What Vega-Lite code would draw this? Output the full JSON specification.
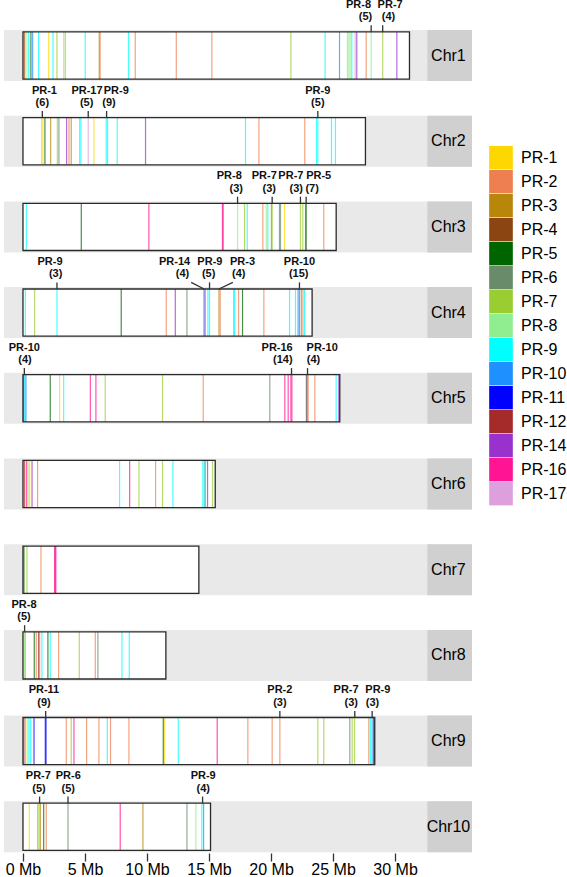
{
  "$schema": "https://vega.github.io/schema/vega-lite/v6.json",
  "padding": {"left": 4, "top": -2, "right": 0, "bottom": 0},
  "bounds": "flush",
  "config": {
    "view": {"fill": "#E9E9E9", "stroke": null},
    "font": "Liberation Sans"
  },
  "data": {
    "values": [
      {"t": "c", "chr": "Chr1", "len": 31.16},
      {"t": "c", "chr": "Chr2", "len": 27.61},
      {"t": "c", "chr": "Chr3", "len": 25.25},
      {"t": "c", "chr": "Chr4", "len": 23.31},
      {"t": "c", "chr": "Chr5", "len": 25.54},
      {"t": "c", "chr": "Chr6", "len": 15.5},
      {"t": "c", "chr": "Chr7", "len": 14.18},
      {"t": "c", "chr": "Chr8", "len": 11.52},
      {"t": "c", "chr": "Chr9", "len": 28.36},
      {"t": "c", "chr": "Chr10", "len": 15.12},

      {"t": "g", "chr": "Chr1", "pos": 0.11, "fam": "PR-12"},
      {"t": "g", "chr": "Chr1", "pos": 0.19, "fam": "PR-1"},
      {"t": "g", "chr": "Chr1", "pos": 0.32, "fam": "PR-8"},
      {"t": "g", "chr": "Chr1", "pos": 0.46, "fam": "PR-9"},
      {"t": "g", "chr": "Chr1", "pos": 0.64, "fam": "PR-5"},
      {"t": "g", "chr": "Chr1", "pos": 0.78, "fam": "PR-10"},
      {"t": "g", "chr": "Chr1", "pos": 1.26, "fam": "PR-9"},
      {"t": "g", "chr": "Chr1", "pos": 2.07, "fam": "PR-1"},
      {"t": "g", "chr": "Chr1", "pos": 2.42, "fam": "PR-9"},
      {"t": "g", "chr": "Chr1", "pos": 2.74, "fam": "PR-7"},
      {"t": "g", "chr": "Chr1", "pos": 3.28, "fam": "PR-8"},
      {"t": "g", "chr": "Chr1", "pos": 3.41, "fam": "PR-7"},
      {"t": "g", "chr": "Chr1", "pos": 5.02, "fam": "PR-9"},
      {"t": "g", "chr": "Chr1", "pos": 6.15, "fam": "PR-3"},
      {"t": "g", "chr": "Chr1", "pos": 6.22, "fam": "PR-2"},
      {"t": "g", "chr": "Chr1", "pos": 8.51, "fam": "PR-9"},
      {"t": "g", "chr": "Chr1", "pos": 9.05, "fam": "PR-2"},
      {"t": "g", "chr": "Chr1", "pos": 12.36, "fam": "PR-2"},
      {"t": "g", "chr": "Chr1", "pos": 15.23, "fam": "PR-2"},
      {"t": "g", "chr": "Chr1", "pos": 21.6, "fam": "PR-7"},
      {"t": "g", "chr": "Chr1", "pos": 24.36, "fam": "PR-9"},
      {"t": "g", "chr": "Chr1", "pos": 25.52, "fam": "PR-10"},
      {"t": "g", "chr": "Chr1", "pos": 26.16, "fam": "PR-8"},
      {"t": "g", "chr": "Chr1", "pos": 26.27, "fam": "PR-8"},
      {"t": "g", "chr": "Chr1", "pos": 26.38, "fam": "PR-8"},
      {"t": "g", "chr": "Chr1", "pos": 26.51, "fam": "PR-9"},
      {"t": "g", "chr": "Chr1", "pos": 26.78, "fam": "PR-17"},
      {"t": "g", "chr": "Chr1", "pos": 26.91, "fam": "PR-14"},
      {"t": "g", "chr": "Chr1", "pos": 27.67, "fam": "PR-2"},
      {"t": "g", "chr": "Chr1", "pos": 28.07, "fam": "PR-8"},
      {"t": "g", "chr": "Chr1", "pos": 29.0, "fam": "PR-7"},
      {"t": "g", "chr": "Chr1", "pos": 30.14, "fam": "PR-14"},

      {"t": "g", "chr": "Chr2", "pos": 1.5, "fam": "PR-1"},
      {"t": "g", "chr": "Chr2", "pos": 1.61, "fam": "PR-1"},
      {"t": "g", "chr": "Chr2", "pos": 1.77, "fam": "PR-5"},
      {"t": "g", "chr": "Chr2", "pos": 2.23, "fam": "PR-3"},
      {"t": "g", "chr": "Chr2", "pos": 2.77, "fam": "PR-7"},
      {"t": "g", "chr": "Chr2", "pos": 2.9, "fam": "PR-6"},
      {"t": "g", "chr": "Chr2", "pos": 3.52, "fam": "PR-14"},
      {"t": "g", "chr": "Chr2", "pos": 3.71, "fam": "PR-2"},
      {"t": "g", "chr": "Chr2", "pos": 3.89, "fam": "PR-3"},
      {"t": "g", "chr": "Chr2", "pos": 4.57, "fam": "PR-9"},
      {"t": "g", "chr": "Chr2", "pos": 4.67, "fam": "PR-9"},
      {"t": "g", "chr": "Chr2", "pos": 5.26, "fam": "PR-17"},
      {"t": "g", "chr": "Chr2", "pos": 5.72, "fam": "PR-1"},
      {"t": "g", "chr": "Chr2", "pos": 6.71, "fam": "PR-9"},
      {"t": "g", "chr": "Chr2", "pos": 6.82, "fam": "PR-9"},
      {"t": "g", "chr": "Chr2", "pos": 7.6, "fam": "PR-9"},
      {"t": "g", "chr": "Chr2", "pos": 9.88, "fam": "PR-14"},
      {"t": "g", "chr": "Chr2", "pos": 17.94, "fam": "PR-9"},
      {"t": "g", "chr": "Chr2", "pos": 19.02, "fam": "PR-2"},
      {"t": "g", "chr": "Chr2", "pos": 22.72, "fam": "PR-2"},
      {"t": "g", "chr": "Chr2", "pos": 23.66, "fam": "PR-9"},
      {"t": "g", "chr": "Chr2", "pos": 23.77, "fam": "PR-9"},
      {"t": "g", "chr": "Chr2", "pos": 24.87, "fam": "PR-9"},
      {"t": "g", "chr": "Chr2", "pos": 25.19, "fam": "PR-9"},

      {"t": "g", "chr": "Chr3", "pos": 0.27, "fam": "PR-9"},
      {"t": "g", "chr": "Chr3", "pos": 4.7, "fam": "PR-5"},
      {"t": "g", "chr": "Chr3", "pos": 10.15, "fam": "PR-16"},
      {"t": "g", "chr": "Chr3", "pos": 16.08, "fam": "PR-16"},
      {"t": "g", "chr": "Chr3", "pos": 16.14, "fam": "PR-16"},
      {"t": "g", "chr": "Chr3", "pos": 17.3, "fam": "PR-8"},
      {"t": "g", "chr": "Chr3", "pos": 17.86, "fam": "PR-7"},
      {"t": "g", "chr": "Chr3", "pos": 18.08, "fam": "PR-9"},
      {"t": "g", "chr": "Chr3", "pos": 19.34, "fam": "PR-2"},
      {"t": "g", "chr": "Chr3", "pos": 19.61, "fam": "PR-8"},
      {"t": "g", "chr": "Chr3", "pos": 19.74, "fam": "PR-9"},
      {"t": "g", "chr": "Chr3", "pos": 20.03, "fam": "PR-3"},
      {"t": "g", "chr": "Chr3", "pos": 20.09, "fam": "PR-7"},
      {"t": "g", "chr": "Chr3", "pos": 20.68, "fam": "PR-10"},
      {"t": "g", "chr": "Chr3", "pos": 20.76, "fam": "PR-6"},
      {"t": "g", "chr": "Chr3", "pos": 21.09, "fam": "PR-1"},
      {"t": "g", "chr": "Chr3", "pos": 22.37, "fam": "PR-7"},
      {"t": "g", "chr": "Chr3", "pos": 22.56, "fam": "PR-7"},
      {"t": "g", "chr": "Chr3", "pos": 22.78, "fam": "PR-6"},
      {"t": "g", "chr": "Chr3", "pos": 22.83, "fam": "PR-5"},
      {"t": "g", "chr": "Chr3", "pos": 24.25, "fam": "PR-2"},

      {"t": "g", "chr": "Chr4", "pos": 0.19, "fam": "PR-9"},
      {"t": "g", "chr": "Chr4", "pos": 0.94, "fam": "PR-7"},
      {"t": "g", "chr": "Chr4", "pos": 2.74, "fam": "PR-9"},
      {"t": "g", "chr": "Chr4", "pos": 7.92, "fam": "PR-5"},
      {"t": "g", "chr": "Chr4", "pos": 11.55, "fam": "PR-2"},
      {"t": "g", "chr": "Chr4", "pos": 12.28, "fam": "PR-14"},
      {"t": "g", "chr": "Chr4", "pos": 13.22, "fam": "PR-6"},
      {"t": "g", "chr": "Chr4", "pos": 14.6, "fam": "PR-14"},
      {"t": "g", "chr": "Chr4", "pos": 14.69, "fam": "PR-10"},
      {"t": "g", "chr": "Chr4", "pos": 14.91, "fam": "PR-9"},
      {"t": "g", "chr": "Chr4", "pos": 15.04, "fam": "PR-9"},
      {"t": "g", "chr": "Chr4", "pos": 15.8, "fam": "PR-3"},
      {"t": "g", "chr": "Chr4", "pos": 15.9, "fam": "PR-2"},
      {"t": "g", "chr": "Chr4", "pos": 16.98, "fam": "PR-9"},
      {"t": "g", "chr": "Chr4", "pos": 17.06, "fam": "PR-9"},
      {"t": "g", "chr": "Chr4", "pos": 17.38, "fam": "PR-2"},
      {"t": "g", "chr": "Chr4", "pos": 17.7, "fam": "PR-5"},
      {"t": "g", "chr": "Chr4", "pos": 19.42, "fam": "PR-2"},
      {"t": "g", "chr": "Chr4", "pos": 21.49, "fam": "PR-9"},
      {"t": "g", "chr": "Chr4", "pos": 21.97, "fam": "PR-9"},
      {"t": "g", "chr": "Chr4", "pos": 22.18, "fam": "PR-10"},
      {"t": "g", "chr": "Chr4", "pos": 22.29, "fam": "PR-10"},
      {"t": "g", "chr": "Chr4", "pos": 22.44, "fam": "PR-3"},
      {"t": "g", "chr": "Chr4", "pos": 22.57, "fam": "PR-2"},
      {"t": "g", "chr": "Chr4", "pos": 22.7, "fam": "PR-9"},

      {"t": "g", "chr": "Chr5", "pos": 0.03, "fam": "PR-10"},
      {"t": "g", "chr": "Chr5", "pos": 0.08, "fam": "PR-10"},
      {"t": "g", "chr": "Chr5", "pos": 0.16, "fam": "PR-9"},
      {"t": "g", "chr": "Chr5", "pos": 0.24, "fam": "PR-10"},
      {"t": "g", "chr": "Chr5", "pos": 2.2, "fam": "PR-5"},
      {"t": "g", "chr": "Chr5", "pos": 2.95, "fam": "PR-1"},
      {"t": "g", "chr": "Chr5", "pos": 3.28, "fam": "PR-9"},
      {"t": "g", "chr": "Chr5", "pos": 5.43, "fam": "PR-16"},
      {"t": "g", "chr": "Chr5", "pos": 5.88, "fam": "PR-16"},
      {"t": "g", "chr": "Chr5", "pos": 6.63, "fam": "PR-7"},
      {"t": "g", "chr": "Chr5", "pos": 11.25, "fam": "PR-7"},
      {"t": "g", "chr": "Chr5", "pos": 14.53, "fam": "PR-2"},
      {"t": "g", "chr": "Chr5", "pos": 19.9, "fam": "PR-6"},
      {"t": "g", "chr": "Chr5", "pos": 21.11, "fam": "PR-16"},
      {"t": "g", "chr": "Chr5", "pos": 21.38, "fam": "PR-16"},
      {"t": "g", "chr": "Chr5", "pos": 21.6, "fam": "PR-16"},
      {"t": "g", "chr": "Chr5", "pos": 21.68, "fam": "PR-16"},
      {"t": "g", "chr": "Chr5", "pos": 22.85, "fam": "PR-4"},
      {"t": "g", "chr": "Chr5", "pos": 22.92, "fam": "PR-10"},
      {"t": "g", "chr": "Chr5", "pos": 22.99, "fam": "PR-2"},
      {"t": "g", "chr": "Chr5", "pos": 23.53, "fam": "PR-2"},
      {"t": "g", "chr": "Chr5", "pos": 25.25, "fam": "PR-9"},
      {"t": "g", "chr": "Chr5", "pos": 25.46, "fam": "PR-14"},

      {"t": "g", "chr": "Chr6", "pos": 0.11, "fam": "PR-12"},
      {"t": "g", "chr": "Chr6", "pos": 0.27, "fam": "PR-16"},
      {"t": "g", "chr": "Chr6", "pos": 0.4, "fam": "PR-7"},
      {"t": "g", "chr": "Chr6", "pos": 0.54, "fam": "PR-1"},
      {"t": "g", "chr": "Chr6", "pos": 0.73, "fam": "PR-14"},
      {"t": "g", "chr": "Chr6", "pos": 1.18, "fam": "PR-2"},
      {"t": "g", "chr": "Chr6", "pos": 7.79, "fam": "PR-9"},
      {"t": "g", "chr": "Chr6", "pos": 8.6, "fam": "PR-16"},
      {"t": "g", "chr": "Chr6", "pos": 9.35, "fam": "PR-7"},
      {"t": "g", "chr": "Chr6", "pos": 10.69, "fam": "PR-2"},
      {"t": "g", "chr": "Chr6", "pos": 11.25, "fam": "PR-7"},
      {"t": "g", "chr": "Chr6", "pos": 12.09, "fam": "PR-9"},
      {"t": "g", "chr": "Chr6", "pos": 14.5, "fam": "PR-9"},
      {"t": "g", "chr": "Chr6", "pos": 14.61, "fam": "PR-9"},
      {"t": "g", "chr": "Chr6", "pos": 14.69, "fam": "PR-6"},
      {"t": "g", "chr": "Chr6", "pos": 14.88, "fam": "PR-14"},
      {"t": "g", "chr": "Chr6", "pos": 15.28, "fam": "PR-7"},

      {"t": "g", "chr": "Chr7", "pos": 0.08, "fam": "PR-5"},
      {"t": "g", "chr": "Chr7", "pos": 0.32, "fam": "PR-7"},
      {"t": "g", "chr": "Chr7", "pos": 1.45, "fam": "PR-2"},
      {"t": "g", "chr": "Chr7", "pos": 2.55, "fam": "PR-16"},
      {"t": "g", "chr": "Chr7", "pos": 2.6, "fam": "PR-16"},
      {"t": "g", "chr": "Chr7", "pos": 2.65, "fam": "PR-16"},

      {"t": "g", "chr": "Chr8", "pos": 0.11, "fam": "PR-8"},
      {"t": "g", "chr": "Chr8", "pos": 0.19, "fam": "PR-7"},
      {"t": "g", "chr": "Chr8", "pos": 0.91, "fam": "PR-5"},
      {"t": "g", "chr": "Chr8", "pos": 1.07, "fam": "PR-2"},
      {"t": "g", "chr": "Chr8", "pos": 1.26, "fam": "PR-12"},
      {"t": "g", "chr": "Chr8", "pos": 1.34, "fam": "PR-2"},
      {"t": "g", "chr": "Chr8", "pos": 1.53, "fam": "PR-9"},
      {"t": "g", "chr": "Chr8", "pos": 2.01, "fam": "PR-5"},
      {"t": "g", "chr": "Chr8", "pos": 2.2, "fam": "PR-9"},
      {"t": "g", "chr": "Chr8", "pos": 2.87, "fam": "PR-2"},
      {"t": "g", "chr": "Chr8", "pos": 4.54, "fam": "PR-7"},
      {"t": "g", "chr": "Chr8", "pos": 5.83, "fam": "PR-2"},
      {"t": "g", "chr": "Chr8", "pos": 6.04, "fam": "PR-6"},
      {"t": "g", "chr": "Chr8", "pos": 7.98, "fam": "PR-9"},
      {"t": "g", "chr": "Chr8", "pos": 8.57, "fam": "PR-9"},

      {"t": "g", "chr": "Chr9", "pos": 0.08, "fam": "PR-12"},
      {"t": "g", "chr": "Chr9", "pos": 0.21, "fam": "PR-7"},
      {"t": "g", "chr": "Chr9", "pos": 0.35, "fam": "PR-1"},
      {"t": "g", "chr": "Chr9", "pos": 0.48, "fam": "PR-9"},
      {"t": "g", "chr": "Chr9", "pos": 0.62, "fam": "PR-9"},
      {"t": "g", "chr": "Chr9", "pos": 0.89, "fam": "PR-11"},
      {"t": "g", "chr": "Chr9", "pos": 1.8, "fam": "PR-11"},
      {"t": "g", "chr": "Chr9", "pos": 1.86, "fam": "PR-11"},
      {"t": "g", "chr": "Chr9", "pos": 3.49, "fam": "PR-2"},
      {"t": "g", "chr": "Chr9", "pos": 3.89, "fam": "PR-7"},
      {"t": "g", "chr": "Chr9", "pos": 4.11, "fam": "PR-16"},
      {"t": "g", "chr": "Chr9", "pos": 5.13, "fam": "PR-2"},
      {"t": "g", "chr": "Chr9", "pos": 6.12, "fam": "PR-2"},
      {"t": "g", "chr": "Chr9", "pos": 6.8, "fam": "PR-9"},
      {"t": "g", "chr": "Chr9", "pos": 7.06, "fam": "PR-2"},
      {"t": "g", "chr": "Chr9", "pos": 8.54, "fam": "PR-2"},
      {"t": "g", "chr": "Chr9", "pos": 11.31, "fam": "PR-5"},
      {"t": "g", "chr": "Chr9", "pos": 11.42, "fam": "PR-1"},
      {"t": "g", "chr": "Chr9", "pos": 12.52, "fam": "PR-9"},
      {"t": "g", "chr": "Chr9", "pos": 15.66, "fam": "PR-16"},
      {"t": "g", "chr": "Chr9", "pos": 18.13, "fam": "PR-2"},
      {"t": "g", "chr": "Chr9", "pos": 20.09, "fam": "PR-2"},
      {"t": "g", "chr": "Chr9", "pos": 20.71, "fam": "PR-2"},
      {"t": "g", "chr": "Chr9", "pos": 23.77, "fam": "PR-7"},
      {"t": "g", "chr": "Chr9", "pos": 24.25, "fam": "PR-7"},
      {"t": "g", "chr": "Chr9", "pos": 26.35, "fam": "PR-6"},
      {"t": "g", "chr": "Chr9", "pos": 26.54, "fam": "PR-7"},
      {"t": "g", "chr": "Chr9", "pos": 26.73, "fam": "PR-7"},
      {"t": "g", "chr": "Chr9", "pos": 27.88, "fam": "PR-2"},
      {"t": "g", "chr": "Chr9", "pos": 28.01, "fam": "PR-9"},
      {"t": "g", "chr": "Chr9", "pos": 28.15, "fam": "PR-10"},
      {"t": "g", "chr": "Chr9", "pos": 28.28, "fam": "PR-11"},

      {"t": "g", "chr": "Chr10", "pos": 0.51, "fam": "PR-1"},
      {"t": "g", "chr": "Chr10", "pos": 1.18, "fam": "PR-7"},
      {"t": "g", "chr": "Chr10", "pos": 1.29, "fam": "PR-7"},
      {"t": "g", "chr": "Chr10", "pos": 1.4, "fam": "PR-3"},
      {"t": "g", "chr": "Chr10", "pos": 1.67, "fam": "PR-5"},
      {"t": "g", "chr": "Chr10", "pos": 1.88, "fam": "PR-2"},
      {"t": "g", "chr": "Chr10", "pos": 3.63, "fam": "PR-6"},
      {"t": "g", "chr": "Chr10", "pos": 7.84, "fam": "PR-16"},
      {"t": "g", "chr": "Chr10", "pos": 9.67, "fam": "PR-3"},
      {"t": "g", "chr": "Chr10", "pos": 13.22, "fam": "PR-6"},
      {"t": "g", "chr": "Chr10", "pos": 13.94, "fam": "PR-8"},
      {"t": "g", "chr": "Chr10", "pos": 14.42, "fam": "PR-9"},
      {"t": "g", "chr": "Chr10", "pos": 14.56, "fam": "PR-10"},

      {"t": "l", "chr": "Chr1", "pos": 28.07, "ex": 28.07, "nx": 27.05, "cx": 27.61, "name": "PR-8", "cnt": "(5)"},
      {"t": "l", "chr": "Chr1", "pos": 29.0, "ex": 29.0, "nx": 29.6, "cx": 29.47, "name": "PR-7", "cnt": "(4)"},
      {"t": "l", "chr": "Chr2", "pos": 1.56, "ex": 1.56, "nx": 1.73, "cx": 1.56, "name": "PR-1", "cnt": "(6)"},
      {"t": "l", "chr": "Chr2", "pos": 5.26, "ex": 5.26, "nx": 5.16, "cx": 5.13, "name": "PR-17", "cnt": "(5)"},
      {"t": "l", "chr": "Chr2", "pos": 6.74, "ex": 6.74, "nx": 7.52, "cx": 6.93, "name": "PR-9", "cnt": "(9)"},
      {"t": "l", "chr": "Chr2", "pos": 23.77, "ex": 23.77, "nx": 23.77, "cx": 23.77, "name": "PR-9", "cnt": "(5)"},
      {"t": "l", "chr": "Chr3", "pos": 17.3, "ex": 17.3, "nx": 16.63, "cx": 17.19, "name": "PR-8", "cnt": "(3)"},
      {"t": "l", "chr": "Chr3", "pos": 20.09, "ex": 20.09, "nx": 19.45, "cx": 19.85, "name": "PR-7", "cnt": "(3)"},
      {"t": "l", "chr": "Chr3", "pos": 22.37, "ex": 22.37, "nx": 21.6, "cx": 22.03, "name": "PR-7", "cnt": "(3)"},
      {"t": "l", "chr": "Chr3", "pos": 22.83, "ex": 22.83, "nx": 23.84, "cx": 23.31, "name": "PR-5", "cnt": "(7)"},
      {"t": "l", "chr": "Chr4", "pos": 2.74, "ex": 2.74, "nx": 2.18, "cx": 2.63, "name": "PR-9", "cnt": "(3)"},
      {"t": "l", "chr": "Chr4", "pos": 14.6, "ex": 13.56, "nx": 12.22, "cx": 12.86, "name": "PR-14", "cnt": "(4)"},
      {"t": "l", "chr": "Chr4", "pos": 15.04, "ex": 15.04, "nx": 15.07, "cx": 14.97, "name": "PR-9", "cnt": "(5)"},
      {"t": "l", "chr": "Chr4", "pos": 15.8, "ex": 16.92, "nx": 17.7, "cx": 17.39, "name": "PR-3", "cnt": "(4)"},
      {"t": "l", "chr": "Chr4", "pos": 22.29, "ex": 22.29, "nx": 22.29, "cx": 22.23, "name": "PR-10", "cnt": "(15)"},
      {"t": "l", "chr": "Chr5", "pos": 0.11, "ex": 0.11, "nx": 0.11, "cx": 0.16, "name": "PR-10", "cnt": "(4)"},
      {"t": "l", "chr": "Chr5", "pos": 21.65, "ex": 21.65, "nx": 20.49, "cx": 20.95, "name": "PR-16", "cnt": "(14)"},
      {"t": "l", "chr": "Chr5", "pos": 22.94, "ex": 22.94, "nx": 24.12, "cx": 23.42, "name": "PR-10", "cnt": "(4)"},
      {"t": "l", "chr": "Chr8", "pos": 0.13, "ex": 0.13, "nx": 0.08, "cx": 0.08, "name": "PR-8", "cnt": "(5)"},
      {"t": "l", "chr": "Chr9", "pos": 1.83, "ex": 1.83, "nx": 1.69, "cx": 1.69, "name": "PR-11", "cnt": "(9)"},
      {"t": "l", "chr": "Chr9", "pos": 20.71, "ex": 20.71, "nx": 20.71, "cx": 20.71, "name": "PR-2", "cnt": "(3)"},
      {"t": "l", "chr": "Chr9", "pos": 26.75, "ex": 26.75, "nx": 26.05, "cx": 26.46, "name": "PR-7", "cnt": "(3)"},
      {"t": "l", "chr": "Chr9", "pos": 28.15, "ex": 28.15, "nx": 28.61, "cx": 28.18, "name": "PR-9", "cnt": "(3)"},
      {"t": "l", "chr": "Chr10", "pos": 1.34, "ex": 1.34, "nx": 1.24, "cx": 1.29, "name": "PR-7", "cnt": "(5)"},
      {"t": "l", "chr": "Chr10", "pos": 3.63, "ex": 3.63, "nx": 3.65, "cx": 3.65, "name": "PR-6", "cnt": "(5)"},
      {"t": "l", "chr": "Chr10", "pos": 14.48, "ex": 14.48, "nx": 14.53, "cx": 14.53, "name": "PR-9", "cnt": "(4)"}
    ]
  },
  "facet": {
    "row": {
      "field": "chr",
      "type": "ordinal",
      "sort": ["Chr1", "Chr2", "Chr3", "Chr4", "Chr5", "Chr6", "Chr7", "Chr8", "Chr9", "Chr10"],
      "header": {"labels": false, "title": null}
    }
  },
  "spacing": {"row": 34.7},
  "spec": {
    "width": 468,
    "height": 51,
    "layer": [
      {
        "transform": [{"filter": "datum.t === 'c'"}],
        "mark": {"type": "rect", "fill": "white"},
        "encoding": {
          "x": {"field": "len", "type": "quantitative"},
          "x2": {"datum": 0},
          "y": {"datum": 0, "type": "quantitative", "axis": null},
          "y2": {"datum": 1}
        }
      },
      {
        "transform": [{"filter": "datum.t === 'g'"}],
        "mark": {"type": "rule", "strokeWidth": 1.2, "opacity": 0.72},
        "encoding": {
          "x": {
            "field": "pos",
            "type": "quantitative",
            "scale": {"domain": [-1.53, 36.2], "nice": false, "zero": false},
            "axis": {
              "title": null,
              "values": [0, 5, 10, 15, 20, 25, 30],
              "labelExpr": "datum.value + ' Mb'",
              "grid": false,
              "domain": false,
              "tickSize": 8,
              "tickColor": "#333333",
              "tickWidth": 1.3,
              "labelFontSize": 16,
              "labelColor": "#000000",
              "labelPadding": 0
            }
          },
          "y": {"datum": 0, "type": "quantitative", "scale": {"domain": [-0.04, 1.04], "nice": false, "zero": false}, "axis": null},
          "y2": {"datum": 1},
          "color": {
            "field": "fam",
            "type": "nominal",
            "scale": {
              "domain": ["PR-1", "PR-2", "PR-3", "PR-4", "PR-5", "PR-6", "PR-7", "PR-8", "PR-9", "PR-10", "PR-11", "PR-12", "PR-14", "PR-16", "PR-17"],
              "range": ["#FFD700", "#EE7F50", "#B8860B", "#8B4513", "#006400", "#698B69", "#9ACD32", "#90EE90", "#00FFFF", "#1E90FF", "#0000FF", "#A52A2A", "#9932CC", "#FF1493", "#DDA0DD"]
            },
            "legend": {
              "title": null,
              "orient": "none",
              "legendX": 485,
              "legendY": 116,
              "symbolType": "square",
              "symbolSize": 560,
              "symbolOpacity": 1,
              "rowPadding": 0,
              "clipHeight": 23.6,
              "labelFontSize": 16,
              "labelColor": "#000000",
              "labelOffset": 8,
              "encode": {
                "symbols": {
                  "update": {
                    "fill": {"scale": "color", "field": "value"},
                    "fillOpacity": {"value": 1},
                    "strokeWidth": {"value": 0}
                  }
                }
              }
            }
          }
        }
      },
      {
        "transform": [{"filter": "datum.t === 'c'"}],
        "mark": {"type": "rect", "fillOpacity": 0, "stroke": "#2a2a2a", "strokeWidth": 1.3},
        "encoding": {
          "x": {"field": "len", "type": "quantitative"},
          "x2": {"datum": 0},
          "y": {"datum": 0, "type": "quantitative", "axis": null},
          "y2": {"datum": 1}
        }
      },
      {
        "transform": [{"filter": "datum.t === 'c'"}],
        "mark": {"type": "rect", "fill": "#D0D0D0"},
        "encoding": {
          "x": {"datum": 32.6, "type": "quantitative"},
          "x2": {"datum": 36.2},
          "y": {"datum": -0.04, "type": "quantitative", "axis": null},
          "y2": {"datum": 1.04}
        }
      },
      {
        "transform": [{"filter": "datum.t === 'c'"}],
        "mark": {"type": "text", "fontSize": 16, "color": "#000000", "baseline": "middle", "align": "center"},
        "encoding": {
          "x": {"datum": 34.3, "type": "quantitative"},
          "y": {"datum": 0.5, "type": "quantitative", "axis": null},
          "text": {"field": "chr"}
        }
      },
      {
        "transform": [{"filter": "datum.t === 'l'"}],
        "mark": {"type": "rule", "stroke": "#333333", "strokeWidth": 1.3},
        "encoding": {
          "x": {"field": "pos", "type": "quantitative"},
          "x2": {"field": "ex"},
          "y": {"datum": 1, "type": "quantitative", "axis": null},
          "y2": {"datum": 1.14}
        }
      },
      {
        "transform": [{"filter": "datum.t === 'l'"}],
        "mark": {"type": "text", "fontSize": 11, "fontWeight": "bold", "color": "#111111", "align": "center", "baseline": "alphabetic", "dy": -24},
        "encoding": {
          "x": {"field": "nx", "type": "quantitative"},
          "y": {"datum": 1, "type": "quantitative", "axis": null},
          "text": {"field": "name"}
        }
      },
      {
        "transform": [{"filter": "datum.t === 'l'"}],
        "mark": {"type": "text", "fontSize": 11, "fontWeight": "bold", "color": "#111111", "align": "center", "baseline": "alphabetic", "dy": -11.5},
        "encoding": {
          "x": {"field": "cx", "type": "quantitative"},
          "y": {"datum": 1, "type": "quantitative", "axis": null},
          "text": {"field": "cnt"}
        }
      }
    ]
  }
}
